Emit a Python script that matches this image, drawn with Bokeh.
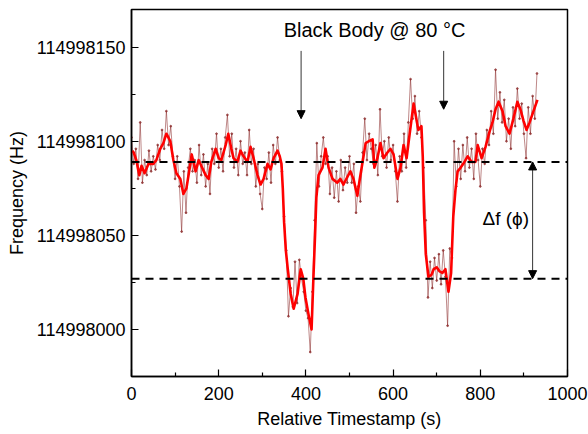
from bokeh.plotting import figure
from bokeh.models import Range1d, FixedTicker, Arrow, NormalHead, Span, Label
from bokeh.embed import file_html
from bokeh.resources import INLINE

# ---------------- data ----------------
raw_time = [0, 5, 10, 15, 20, 25, 30, 35, 40, 45,
            50, 55, 60, 65, 70, 75, 80, 85, 90, 95,
            100, 105, 110, 115, 120, 125, 130, 135, 140, 145,
            150, 155, 160, 165, 170, 175, 180, 185, 190, 195,
            200, 205, 210, 215, 220, 225, 230, 235, 240, 245,
            250, 255, 260, 265, 270, 275, 280, 285, 290, 295,
            300, 305, 310, 315, 320, 325, 330, 335, 340, 345,
            350, 355, 360, 365, 370, 375, 380, 385, 390, 395,
            400, 405, 410, 415, 420, 425, 430, 435, 440, 445,
            450, 455, 460, 465, 470, 475, 480, 485, 490, 495,
            500, 505, 510, 515, 520, 525, 530, 535, 540, 545,
            550, 555, 560, 565, 570, 575, 580, 585, 590, 595,
            600, 605, 610, 615, 620, 625, 630, 635, 640, 645,
            650, 655, 660, 665, 670, 675, 680, 685, 690, 695,
            700, 705, 710, 715, 720, 725, 730, 735, 740, 745,
            750, 755, 760, 765, 770, 775, 780, 785, 790, 795,
            800, 805, 810, 815, 820, 825, 830, 835, 840, 845,
            850, 855, 860, 865, 870, 875, 880, 885, 890, 895,
            900, 905, 910, 915, 920, 925, 930]

raw_freq = [114998102, 114998088, 114998096, 114998080, 114998110, 114998078, 114998090, 114998082, 114998095, 114998084,
            114998092, 114998085, 114998098, 114998090, 114998106, 114998096, 114998116, 114998098, 114998108, 114998092,
            114998080, 114998092, 114998076, 114998052, 114998084, 114998062, 114998086, 114998096, 114998084, 114998090,
            114998078, 114998098, 114998082, 114998093, 114998076, 114998088, 114998072, 114998096, 114998088, 114998104,
            114998086, 114998096, 114998084, 114998102, 114998114, 114998092, 114998104, 114998086, 114998096, 114998082,
            114998100, 114998088, 114998094, 114998082, 114998106, 114998088, 114998096, 114998076, 114998088, 114998072,
            114998064, 114998086, 114998080, 114998094, 114998078, 114998098, 114998088, 114998102, 114998090, 114998084,
            114998060, 114998042, 114998007, 114998022, 114998012, 114998036, 114998014, 114998037, 114998027, 114998020,
            114998010, 114998006, 114997988, 114998020, 114998058, 114998099, 114998076, 114998092, 114998102, 114998088,
            114998092, 114998072, 114998086, 114998070, 114998084, 114998068, 114998090, 114998074, 114998086, 114998078,
            114998092, 114998078, 114998088, 114998062, 114998076, 114998068, 114998094, 114998112, 114998090, 114998104,
            114998096, 114998088, 114998098, 114998082, 114998117, 114998092, 114998100, 114998086, 114998102, 114998090,
            114998098, 114998084, 114998068, 114998092, 114998084, 114998104, 114998086, 114998110, 114998133, 114998112,
            114998124, 114998104, 114998116, 114998102, 114998086, 114998058, 114998017, 114998036, 114998022, 114998038,
            114998026, 114998040, 114998024, 114998042, 114998028, 114998002, 114998043, 114998038, 114998100, 114998076,
            114998096, 114998080, 114998098, 114998084, 114998102, 114998086, 114998096, 114998080, 114998104, 114998090,
            114998076, 114998096, 114998088, 114998106, 114998098, 114998116, 114998104, 114998138, 114998112, 114998126,
            114998110, 114998122, 114998100, 114998112, 114998096, 114998118, 114998108, 114998128, 114998112, 114998120,
            114998104, 114998091, 114998118, 114998104, 114998124, 114998112, 114998136]

smooth_time = [2, 5, 11, 18, 23, 30, 39, 50, 57, 66, 73, 80, 89, 96, 103, 112, 119, 126, 135, 138,
               147, 154, 160, 170, 177, 183, 193, 200, 206, 216, 222, 229, 234, 243, 250, 257, 266, 273, 280, 289,
               296, 303, 312, 319, 326, 335, 340, 344, 347, 350, 354, 358, 365, 372, 381, 388, 394, 399, 406, 413,
               417, 421, 424, 429, 438, 445, 452, 461, 472, 479, 486, 495, 502, 509, 518, 523, 530, 537, 544, 553,
               557, 564, 571, 578, 587, 594, 601, 610, 617, 624, 631, 638, 647, 654, 658, 665, 668, 671, 675, 681,
               688, 693, 700, 706, 713, 720, 727, 733, 738, 743, 748, 755, 761, 771, 780, 789, 794, 803, 812, 821,
               828, 835, 842, 851, 858, 867, 876, 885, 892, 899, 906, 913, 922, 931]

smooth_freq = [114998095, 114998094, 114998090, 114998082, 114998087, 114998083, 114998088, 114998088, 114998090, 114998096,
               114998099, 114998104, 114998100, 114998090, 114998083, 114998080, 114998072, 114998075, 114998088, 114998093,
               114998084, 114998090, 114998087, 114998082, 114998080, 114998089, 114998096, 114998091, 114998090, 114998098,
               114998104, 114998096, 114998091, 114998089, 114998095, 114998092, 114998089, 114998097, 114998091, 114998082,
               114998077, 114998080, 114998088, 114998085, 114998091, 114998095, 114998092, 114998088, 114998075, 114998057,
               114998042, 114998033, 114998019, 114998011, 114998019, 114998032, 114998027, 114998017, 114998008, 114998000,
               114998026, 114998050, 114998070, 114998082, 114998086, 114998096, 114998086, 114998080, 114998078, 114998080,
               114998077, 114998081, 114998084, 114998080, 114998071, 114998079, 114998089, 114998099, 114998100, 114998101,
               114998086, 114998091, 114998099, 114998091, 114998094, 114998096, 114998093, 114998080, 114998086, 114998098,
               114998091, 114998104, 114998120, 114998111, 114998106, 114998108, 114998092, 114998062, 114998040, 114998028,
               114998029, 114998032, 114998033, 114998031, 114998030, 114998032, 114998020, 114998030, 114998060, 114998074,
               114998084, 114998086, 114998088, 114998092, 114998089, 114998089, 114998098, 114998091, 114998097, 114998105,
               114998110, 114998117, 114998121, 114998116, 114998108, 114998104, 114998112, 114998121, 114998117, 114998111,
               114998106, 114998110, 114998116, 114998122]

x_ticks = [0, 200, 400, 600, 800, 1000]
x_minor_ticks = [100, 300, 500, 700, 900]
y_ticks = [114998000, 114998050, 114998100, 114998150]
y_tick_labels = ["114998000", "114998050", "114998100", "114998150"]
y_minor_ticks = [114997975, 114998025, 114998075, 114998125]

level_high = 114998089
level_low = 114998027

marker_times = [389, 716]
marker_start = [114998148, 114998148]
marker_end = [114998112, 114998117]
delta_time = 920

title_text = "Black Body @ 80 °C"
title_pos = (349, 114998159)
delta_text = "Δf (ϕ)"
delta_pos = (805, 114998059)

FONT = "Liberation Sans"

# ---------------- figure ----------------
p = figure(width=588, height=434,
           x_range=Range1d(0, 1000), y_range=Range1d(114997975, 114998170),
           output_backend="svg", toolbar_location=None,
           min_border_left=131, min_border_right=21, min_border_top=9, min_border_bottom=58,
           background_fill_color="white", border_fill_color="white")

p.grid.visible = False
p.outline_line_color = "black"
p.outline_line_width = 1.5
p.outline_line_alpha = 1.0

p.xaxis.ticker = FixedTicker(ticks=x_ticks, minor_ticks=x_minor_ticks)
p.yaxis.ticker = FixedTicker(ticks=y_ticks, minor_ticks=y_minor_ticks)
p.yaxis.major_label_overrides = {t: l for t, l in zip(y_ticks, y_tick_labels)}

for ax in (p.xaxis[0], p.yaxis[0]):
    ax.axis_line_color = "black"
    ax.axis_line_width = 1.5
    ax.major_tick_in = 7
    ax.major_tick_out = 0
    ax.minor_tick_in = 4
    ax.minor_tick_out = 0
    ax.major_tick_line_width = 1.2
    ax.minor_tick_line_width = 1.2
    ax.major_label_text_font = FONT
    ax.major_label_text_font_size = "18px"
    ax.major_label_text_color = "black"
    ax.axis_label_text_font = FONT
    ax.axis_label_text_font_size = "18px"
    ax.axis_label_text_font_style = "normal"
    ax.axis_label_text_color = "black"

p.xaxis.axis_label = "Relative Timestamp (s)"
p.yaxis.axis_label = "Frequency (Hz)"
p.xaxis.major_label_standoff = 10
p.xaxis.axis_label_standoff = 6
p.yaxis.major_label_standoff = 6
p.yaxis.axis_label_standoff = 7

# raw data
p.line(raw_time, raw_freq, line_color="#8b2a2a", line_width=0.8, line_alpha=0.7)
p.scatter(raw_time, raw_freq, size=1.8, color="#8b2a2a", alpha=0.7)
# smoothed
p.line(smooth_time, smooth_freq, line_color="#ff0000", line_width=2.6, line_join="round")

# dashed levels
for lv in (level_high, level_low):
    p.add_layout(Span(location=lv, dimension="width", line_color="black",
                      line_width=2, line_dash="8 6"))

# marker arrows
for xt, ys, ye in zip(marker_times, marker_start, marker_end):
    p.add_layout(Arrow(end=NormalHead(size=8, fill_color="black", line_color="black"),
                       x_start=xt, y_start=ys, x_end=xt, y_end=ye,
                       line_color="black", line_width=0.8))

# double arrow delta f
p.add_layout(Arrow(start=NormalHead(size=8, fill_color="black", line_color="black"),
                   end=NormalHead(size=8, fill_color="black", line_color="black"),
                   x_start=delta_time, y_start=level_low, x_end=delta_time, y_end=level_high,
                   line_color="black", line_width=0.8))

p.add_layout(Label(x=title_pos[0], y=title_pos[1], text=title_text,
                   text_font=FONT, text_font_size="20px", text_color="black",
                   text_baseline="alphabetic", text_align="left"))
p.add_layout(Label(x=delta_pos[0], y=delta_pos[1], text=delta_text,
                   text_font=FONT, text_font_size="19px", text_color="black",
                   text_baseline="alphabetic", text_align="left"))

open("out.html", "w").write(file_html(p, INLINE))
